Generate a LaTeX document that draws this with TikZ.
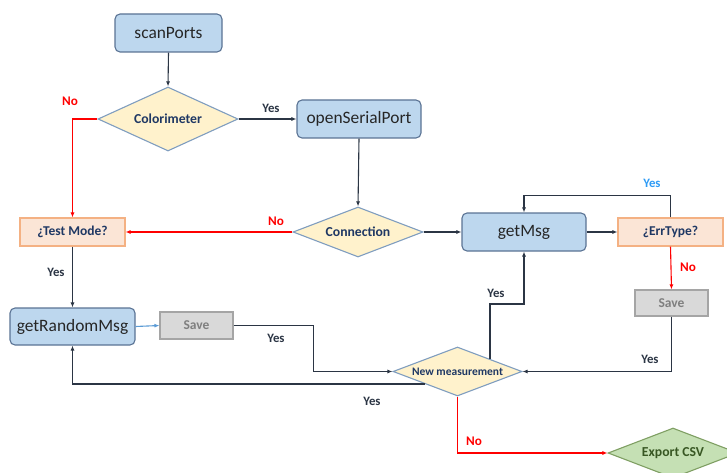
\documentclass[tikz,border=0pt]{standalone}
\usepackage{fontspec}
\setmainfont{Carlito}
\usetikzlibrary{shapes.geometric,arrows.meta}

\definecolor{boxfill}{HTML}{BDD7EE}
\definecolor{boxline}{HTML}{5A7394}
\definecolor{askfill}{HTML}{FFF2CC}
\definecolor{askline}{HTML}{7F9DBF}
\definecolor{asktext}{HTML}{1F3864}
\definecolor{modefill}{HTML}{FBE5D6}
\definecolor{modeline}{HTML}{F4B183}
\definecolor{savefill}{HTML}{D9D9D9}
\definecolor{saveline}{HTML}{A5A5A5}
\definecolor{savetext}{HTML}{7F7F7F}
\definecolor{csvfill}{HTML}{C5E0B4}
\definecolor{csvline}{HTML}{7F9F63}
\definecolor{csvtext}{HTML}{385723}
\definecolor{wire}{HTML}{2B3544}
\definecolor{nored}{HTML}{FF0000}
\definecolor{yesblue}{HTML}{2E9BF5}
\definecolor{wireblue}{HTML}{5B9BD5}

\begin{document}
\begin{tikzpicture}[x=1pt, y=-1pt,
  >={Latex[length=5pt,width=4pt]},
  every path/.style={line width=1.1pt},
  func/.style={draw=boxline, fill=boxfill, rounded corners=5pt, minimum width=107pt, minimum height=38pt, font=\fontsize{17.4}{18}\selectfont, text=black!85},
  ask/.style={diamond, draw=askline, fill=askfill, inner sep=0pt, aspect=2.6, font=\fontsize{13.7}{14}\selectfont\bfseries, text=asktext},
  mode/.style={draw=modeline, fill=modefill, minimum width=105pt, minimum height=28pt, font=\fontsize{13.5}{14}\selectfont\bfseries, text=asktext},
  savebox/.style={draw=saveline, fill=savefill, minimum width=73pt, minimum height=26pt, font=\fontsize{13.5}{14}\selectfont\bfseries, text=savetext},
  lbl/.style={font=\fontsize{12.8}{14}\selectfont\bfseries, text=wire},
  nolbl/.style={font=\fontsize{13.2}{14}\selectfont\bfseries, text=nored}]

\useasboundingbox (0,0) rectangle (727,473);

% boxes
\node (scan) at (168.5, 33) [func] {scanPorts};
\node (colo) at (168, 119) [ask, aspect=2.19, minimum width=140pt, minimum height=64pt] {Colorimeter};
\node (osp) at (359, 119) [func, minimum width=124pt] {openSerialPort};
\node (conn) at (358, 232) [ask, minimum width=130pt, minimum height=50pt] {Connection};
\node (test) at (72.5, 232) [mode] {¿Test Mode?};
\node (msg) at (524, 232) [func, minimum width=124pt] {getMsg};
\node (err) at (670.5, 232) [mode] {¿ErrType?};
\node (save2) at (671.5, 303) [savebox] {Save};
\node (rnd) at (72.5, 326.5) [func, minimum width=125pt, minimum height=37pt] {getRandomMsg};
\node (save1) at (196.5, 325.5) [savebox, minimum height=27pt] {Save};
\node (nm) at (457.5, 371.5) [ask, aspect=2.63, minimum width=129pt, minimum height=49pt, font=\fontsize{11.5}{12}\selectfont\bfseries] {New measurement};
\node (csv) at (673, 453) [ask, draw=csvline, fill=csvfill, text=csvtext, minimum width=130pt, minimum height=50pt] {Export CSV};
\coordinate (upturn) at (489, 304);

% connectors
\draw [->, wire] (scan.south) -- (colo.north);
\draw [->, nored] (colo.west) -| (test.north);
\draw [->, wire] (colo.east) -- (osp.west);
\draw [->, wire] (osp.south) -- (conn.north);
\draw [->, nored] (conn.west) -- (test.east);
\draw [->, wire] (conn.east) -- (msg.west);
\draw [->, wire] (msg.east) -- (err.west);
\draw [->, wire] (err.north) -- ++(0,-22) -| (msg.north);
\draw [->, nored] (err.south) -- (save2.north);
\draw [->, wire] (save2.south) |- (nm.east);
\draw [->, wire] (test.south) -- (rnd.north);
\draw [->, wireblue] (rnd.east) -- (save1.west);
\draw [->, wire] (save1.east) -- ++(80,0) |- (nm.west);
\draw [->, wire] (nm.south west) -| (rnd.south);
\draw [->, wire] (nm.north east) |- (upturn) -| (msg.south);
\draw [->, nored] (nm.south) |- (csv.west);

% labels
\node (no1) at (70, 101) [nolbl] {No};
\node (yes1) at (271, 108) [lbl] {Yes};
\node (no2) at (276, 221) [nolbl] {No};
\node (yes2) at (652, 183) [lbl, text=yesblue] {Yes};
\node (no3) at (688, 267) [nolbl] {No};
\node (yes3) at (496, 293) [lbl] {Yes};
\node (yes4) at (56, 272) [lbl] {Yes};
\node (yes5) at (276, 338) [lbl] {Yes};
\node (yes6) at (650, 359) [lbl] {Yes};
\node (yes7) at (372, 401) [lbl] {Yes};
\node (no4) at (474, 441) [nolbl] {No};

\end{tikzpicture}
\end{document}
